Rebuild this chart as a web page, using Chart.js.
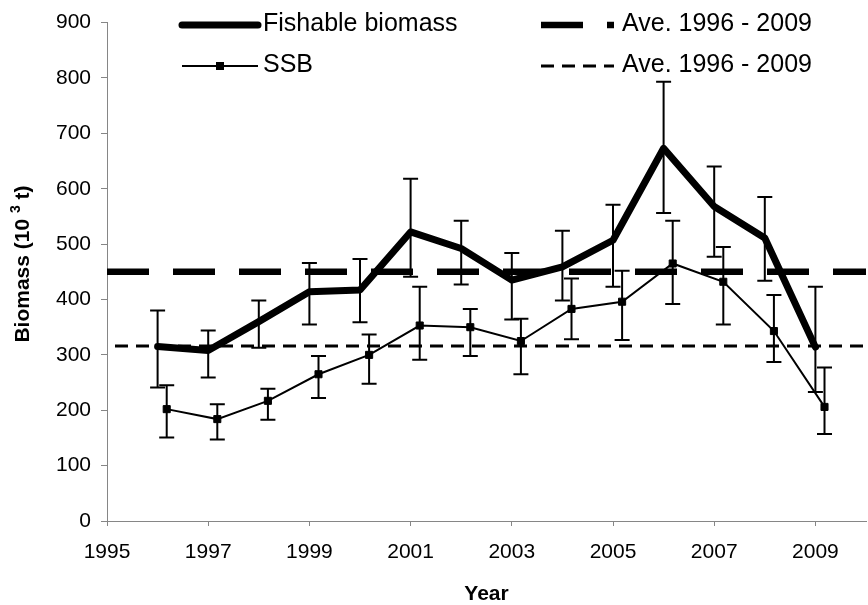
<!DOCTYPE html>
<html>
<head>
<meta charset="utf-8">
<title>Fishable biomass and SSB</title>
<script src="https://cdn.jsdelivr.net/npm/chart.js@4.4.1/dist/chart.umd.min.js"></script>
<style>
  html, body { margin: 0; padding: 0; background: #fff; overflow: hidden; }
  #wrap { position: relative; width: 872px; height: 605px; }
</style>
</head>
<body>
<div id="wrap"><canvas id="chart"></canvas></div>
<script>
// Survey years
const years = [1996, 1997, 1998, 1999, 2000, 2001, 2002, 2003, 2004, 2005, 2006, 2007, 2008, 2009];

// Fishable biomass (10^3 t) with lower / upper error limits
const fishable     = [315, 308, 360, 414, 417, 522, 492, 435, 459, 507, 673, 568, 511, 314];
const fishableLow  = [241, 259, 313, 355, 359, 441, 427, 364, 398, 423, 556, 477, 434, 233];
const fishableHigh = [380, 344, 398, 466, 473, 618, 542, 484, 524, 571, 793, 640, 585, 423];

// Spawning stock biomass (10^3 t) with lower / upper error limits
const ssb     = [202, 184, 217, 265, 300, 353, 350, 325, 383, 396, 465, 432, 343, 206];
const ssbLow  = [151, 147, 183, 222, 248, 291, 298, 265, 328, 327, 392, 355, 287, 157];
const ssbHigh = [245, 211, 239, 298, 337, 423, 383, 365, 438, 452, 542, 495, 408, 277];

// Long-term means, 1996 - 2009
const fishableAverage = 450;
const ssbAverage = 316;
const averageSpan = [1995, 2010];

// SSB points sit a little right of the year so the error bars do not overlap
const ssbShift = 0.18;

// Axis ticks
const xTicks = [1995, 1997, 1999, 2001, 2003, 2005, 2007, 2009];
const yTicks = [0, 100, 200, 300, 400, 500, 600, 700, 800, 900];

const FONT = '"Liberation Sans", Arial, Helvetica, sans-serif';
const AXIS_GREY = '#868686';

const datasets = [
  {
    label: 'Fishable biomass',
    data: years.map((yr, i) => ({ x: yr, y: fishable[i] })),
    borderColor: '#000',
    borderWidth: 7,
    borderJoinStyle: 'round',
    borderCapStyle: 'round',
    pointRadius: 0,
    errLow: fishableLow,
    errHigh: fishableHigh,
    legendRow: 0, legendCol: 0
  },
  {
    label: 'SSB',
    data: years.map((yr, i) => ({ x: yr + ssbShift, y: ssb[i] })),
    borderColor: '#000',
    borderWidth: 2,
    pointStyle: 'rect',
    pointRadius: 5,
    pointBorderWidth: 1,
    pointBackgroundColor: '#000',
    pointBorderColor: '#000',
    errLow: ssbLow,
    errHigh: ssbHigh,
    legendRow: 1, legendCol: 0
  },
  {
    label: 'Ave. 1996 - 2009',
    data: averageSpan.map(x => ({ x, y: fishableAverage })),
    borderColor: '#000',
    borderWidth: 6.5,
    borderDash: [42, 24],
    borderCapStyle: 'butt',
    pointRadius: 0,
    legendRow: 0, legendCol: 1
  },
  {
    label: 'Ave. 1996 - 2009',
    data: averageSpan.map(x => ({ x, y: ssbAverage })),
    borderColor: '#000',
    borderWidth: 3,
    borderDash: [13, 8],
    borderDashOffset: 13,
    borderCapStyle: 'butt',
    pointRadius: 0,
    legendRow: 1, legendCol: 1
  }
];

// Vertical error bars with caps, drawn from each dataset's errLow / errHigh
const errorBars = {
  id: 'errorBars',
  afterDatasetsDraw(chart) {
    const ctx = chart.ctx;
    const yScale = chart.scales.y;
    const cap = 7.5;
    ctx.save();
    ctx.strokeStyle = '#000';
    ctx.lineWidth = 2;
    ctx.lineCap = 'butt';
    chart.data.datasets.forEach((ds, di) => {
      if (!ds.errLow) return;
      const meta = chart.getDatasetMeta(di);
      meta.data.forEach((pt, i) => {
        const x = pt.x;
        const yLo = yScale.getPixelForValue(ds.errLow[i]);
        const yHi = yScale.getPixelForValue(ds.errHigh[i]);
        ctx.beginPath();
        ctx.moveTo(x, yHi); ctx.lineTo(x, yLo);
        ctx.moveTo(x - cap, yHi); ctx.lineTo(x + cap, yHi);
        ctx.moveTo(x - cap, yLo); ctx.lineTo(x + cap, yLo);
        ctx.stroke();
      });
    });
    ctx.restore();
  }
};

// Rotated y-axis title with a raised exponent
const yTitle = {
  id: 'yTitle',
  afterDraw(chart) {
    const ctx = chart.ctx;
    const main = 'bold 21px ' + FONT;
    const sup = 'bold 14px ' + FONT;
    const parts = [
      { t: 'Biomass (10 ', f: main, dy: 0 },
      { t: '3', f: sup, dy: -7 },
      { t: ' t)', f: main, dy: 0 }
    ];
    ctx.save();
    let total = 0;
    parts.forEach(p => { ctx.font = p.f; p.w = ctx.measureText(p.t).width; total += p.w; });
    ctx.translate(23, 264);
    ctx.rotate(-Math.PI / 2);
    ctx.fillStyle = '#000';
    ctx.textBaseline = 'middle';
    let x = -total / 2;
    parts.forEach(p => { ctx.font = p.f; ctx.fillText(p.t, x, p.dy); x += p.w; });
    ctx.restore();
  }
};

// Two-column legend across the top of the plot
const topLegend = {
  id: 'topLegend',
  afterDraw(chart) {
    const ctx = chart.ctx;
    const colX = [182, 541];
    const sampleW = [76, 73];
    const rowY = [25, 66];
    const textX = [263, 622];
    ctx.save();
    ctx.font = '25px ' + FONT;
    ctx.textBaseline = 'middle';
    ctx.fillStyle = '#000';
    chart.data.datasets.forEach(ds => {
      const x0 = colX[ds.legendCol];
      const x1 = x0 + sampleW[ds.legendCol];
      const y = rowY[ds.legendRow];
      ctx.save();
      ctx.strokeStyle = ds.borderColor;
      ctx.lineWidth = ds.borderWidth;
      ctx.lineCap = ds.borderCapStyle || 'butt';
      ctx.setLineDash(ds.borderDash || []);
      ctx.beginPath();
      ctx.moveTo(x0, y); ctx.lineTo(x1, y);
      ctx.stroke();
      ctx.restore();
      if (ds.pointStyle === 'rect') {
        const s = 8;
        ctx.fillRect((x0 + x1) / 2 - s / 2, y - s / 2, s, s);
      }
      ctx.fillText(ds.label, textX[ds.legendCol], y - 1);
    });
    ctx.restore();
  }
};

new Chart(document.getElementById('chart'), {
  type: 'line',
  data: { datasets },
  options: {
    responsive: true,
    maintainAspectRatio: false,
    animation: false,
    devicePixelRatio: 1,
    layout: { padding: { top: 19, right: 0, bottom: 0, left: 0 } },
    plugins: { legend: { display: false }, tooltip: { enabled: false } },
    elements: { line: { tension: 0 } },
    scales: {
      x: {
        type: 'linear',
        min: 1995,
        max: 2010,
        afterBuildTicks: s => { s.ticks = xTicks.map(v => ({ value: v })); },
        afterFit: s => { s.height = 84; },
        grid: { drawOnChartArea: false, drawTicks: true, tickLength: 5, color: AXIS_GREY, lineWidth: 1 },
        border: { color: AXIS_GREY, width: 1 },
        ticks: { color: '#000', font: { family: FONT, size: 21 }, padding: 14, maxRotation: 0, callback: v => String(v) },
        title: { display: true, text: 'Year', color: '#000', font: { family: FONT, size: 21, weight: 'bold', lineHeight: 1 }, padding: { top: 0, bottom: 0 } }
      },
      y: {
        min: 0,
        max: 900,
        afterBuildTicks: s => { s.ticks = yTicks.map(v => ({ value: v })); },
        afterFit: s => { s.width = 107; },
        grid: { drawOnChartArea: false, drawTicks: true, tickLength: 6, color: AXIS_GREY, lineWidth: 1 },
        border: { color: AXIS_GREY, width: 1 },
        ticks: { color: '#000', font: { family: FONT, size: 21 }, padding: 10, callback: v => String(v) }
      }
    }
  },
  plugins: [errorBars, yTitle, topLegend]
});
</script>
</body>
</html>
